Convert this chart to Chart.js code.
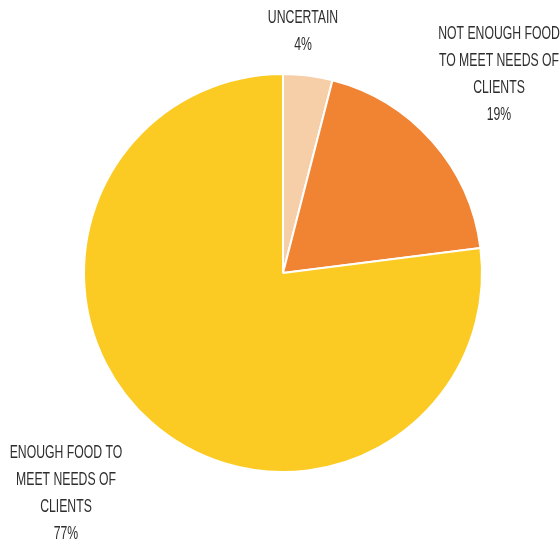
<!DOCTYPE html>
<html>
<head>
<meta charset="utf-8">
<script src="https://cdn.jsdelivr.net/npm/chart.js@4"></script>
<style>
  html, body { margin: 0; padding: 0; background: #fff; }
  #wrap { width: 560px; height: 546px; position: relative; }
</style>
</head>
<body>
<div id="wrap"><canvas id="pie"></canvas></div>
<script>
const categories = [
  ['UNCERTAIN'],
  ['NOT ENOUGH FOOD', 'TO MEET NEEDS OF', 'CLIENTS'],
  ['ENOUGH FOOD TO', 'MEET NEEDS OF', 'CLIENTS']
];
const shares = [4, 19, 77];
const sliceColors = ['#F6CFA8', '#F08433', '#FBCB23'];

// where each label block sits (centre x, first line y)
const labelSpots = [
  { x: 303, y: 18 },
  { x: 499, y: 34 },
  { x: 66, y: 453 }
];

// condensed look: squeeze a normal sans horizontally
const squeeze = 0.68;

const labelPlugin = {
  id: 'sliceLabels',
  afterDraw(chart) {
    const ctx = chart.ctx;
    ctx.fillStyle = '#2e2e2e';
    ctx.font = '18px "Liberation Sans", Arial, sans-serif';
    ctx.textAlign = 'center';
    ctx.textBaseline = 'middle';
    const lh = 27;
    categories.forEach((lines, i) => {
      const spot = labelSpots[i];
      const all = lines.concat([shares[i] + '%']);
      all.forEach((t, j) => {
        ctx.save();
        ctx.translate(spot.x, spot.y + j * lh);
        ctx.scale(squeeze, 1);
        ctx.fillText(t, 0, 0);
        ctx.restore();
      });
    });
  }
};

new Chart(document.getElementById('pie'), {
  type: 'pie',
  data: {
    labels: categories.map(c => c.join(' ')),
    datasets: [{
      data: shares,
      backgroundColor: sliceColors,
      borderColor: '#ffffff',
      borderWidth: 2
    }]
  },
  options: {
    responsive: true,
    maintainAspectRatio: false,
    animation: false,
    layout: { padding: { left: 83, right: 77, top: 73, bottom: 73 } },
    plugins: {
      legend: { display: false },
      tooltip: { enabled: false }
    }
  },
  plugins: [labelPlugin]
});
</script>
</body>
</html>
